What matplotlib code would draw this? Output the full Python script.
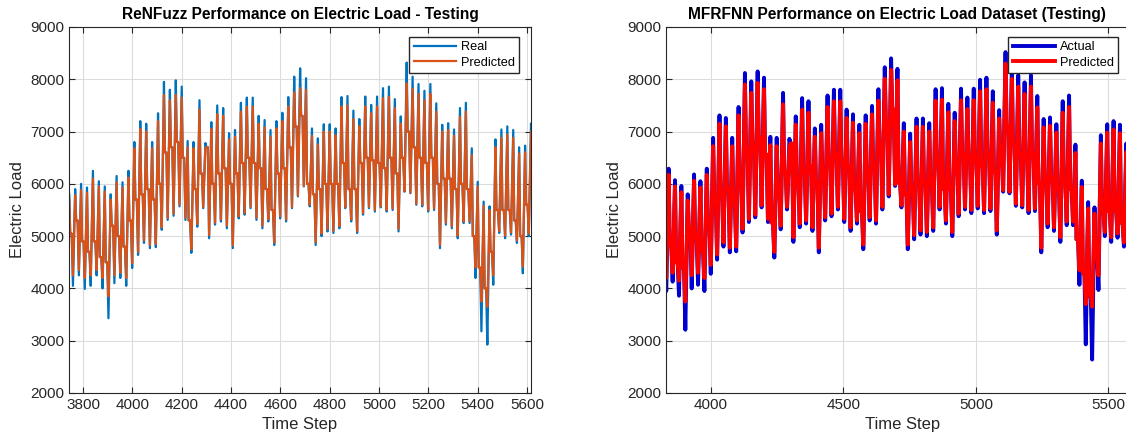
import numpy as np
import matplotlib.pyplot as plt

plt.rcParams['font.family'] = ['Liberation Sans', 'DejaVu Sans']

# hourly test data, one daily cycle every 24 steps starting at step 3744
day_start = 3744
day_len = 24

# ReNFuzz panel: daily peak / midday level / daily low
renf_real_peak = [5800, 5900, 6000, 5930, 6250, 6050, 5950, 5800, 6150, 6030,
                  6250, 6800, 7200, 7150, 6800, 7350, 7950, 7800, 7980, 7860,
                  6820, 6800, 7600, 6780, 7180, 7500, 7450, 6970, 7030, 7550,
                  7650, 7650, 7300, 7220, 7030, 7200, 7360, 7660, 8050, 8210,
                  8020, 7060, 6870, 7140, 7140, 7060, 7660, 7680, 7400, 7240,
                  7670, 7510, 7670, 7830, 7860, 7620, 7290, 8320, 8050, 7910,
                  7780, 7910, 7540, 7130, 7160, 7040, 7450, 7550, 6680, 6040,
                  5660, 5570, 6850, 7040, 7100, 7030, 6700, 6730, 7150]
renf_pred_peak = [5700, 5780, 5880, 5830, 6100, 5950, 5850, 5700, 6030, 5930,
                  6120, 6680, 7050, 7000, 6680, 7200, 7700, 7600, 7700, 7650,
                  6700, 6680, 7420, 6680, 7050, 7330, 7300, 6850, 6900, 7380,
                  7470, 7480, 7150, 7080, 6900, 7060, 7200, 7480, 7750, 7830,
                  7800, 6920, 6750, 7000, 7000, 6930, 7480, 7500, 7240, 7100,
                  7480, 7350, 7480, 7640, 7660, 7450, 7150, 7920, 7820, 7720,
                  7600, 7720, 7380, 7000, 7030, 6920, 7280, 7380, 6550, 5950,
                  5580, 5500, 6700, 6880, 6940, 6880, 6580, 6600, 7000]
renf_mid = [5050, 5300, 4900, 4700, 4900, 4600, 4500, 5200, 5000, 4800,
            5300, 5700, 5800, 5900, 5700, 6000, 6600, 6700, 6800, 6500,
            5300, 5900, 6200, 6700, 6000, 6200, 6300, 6000, 6200, 6400,
            6500, 6400, 6300, 5900, 5500, 6200, 6300, 6700, 7100, 7300,
            6000, 5800, 5900, 6000, 6000, 6000, 6400, 5900, 5900, 6400,
            6500, 6450, 6400, 6300, 6500, 6200, 6500, 7000, 6700, 6500,
            6400, 6500, 6000, 6100, 6100, 5900, 6000, 5900, 5000, 4400,
            4000, 4700, 5500, 5500, 5500, 5300, 5000, 5600]
renf_real_low = [4050, 4250, 3990, 4050, 4250, 4000, 3430, 4100, 4200, 4050,
                 4390, 4640, 4870, 4770, 4790, 5120, 5310, 5390, 5570, 5310,
                 4680, 5180, 5535, 4960, 5220, 5280, 5150, 4770, 5340, 5410,
                 5535, 5310, 5150, 5280, 4830, 5340, 5280, 5535, 5760, 5950,
                 5570, 4830, 5000, 5090, 5060, 5150, 5535, 5280, 5060, 5410,
                 5535, 5470, 5550, 5470, 5500, 5090, 5850, 5820, 5600, 5570,
                 5470, 5500, 4770, 5220, 5150, 4960, 5250, 5250, 4200, 3180,
                 2925, 4070, 5060, 4960, 5030, 4870, 4290, 5000]
renf_pred_low = [4250, 4350, 4200, 4250, 4350, 4200, 3850, 4250, 4300, 4200,
                 4480, 4700, 4920, 4830, 4850, 5170, 5350, 5430, 5600, 5350,
                 4750, 5230, 5560, 5020, 5260, 5320, 5200, 4820, 5380, 5440,
                 5560, 5350, 5200, 5320, 4880, 5380, 5320, 5560, 5780, 5960,
                 5600, 4880, 5050, 5130, 5100, 5190, 5560, 5320, 5100, 5440,
                 5560, 5500, 5570, 5500, 5530, 5140, 5860, 5830, 5620, 5600,
                 5500, 5530, 4830, 5260, 5190, 5010, 5280, 5280, 4400, 3750,
                 3650, 4250, 5100, 5010, 5070, 4920, 4420, 5050]

# MFRFNN panel
mfr_act_peak = [5800, 5910, 6020, 5940, 6290, 6070, 5960, 5800, 6180, 6050,
                6290, 6880, 7310, 7260, 6880, 7470, 8120, 7960, 8150, 8030,
                6900, 6880, 7740, 6860, 7290, 7640, 7580, 7060, 7130, 7690,
                7800, 7800, 7420, 7330, 7130, 7310, 7490, 7810, 8230, 8400,
                8200, 7160, 6960, 7250, 7250, 7160, 7810, 7830, 7530, 7360,
                7820, 7650, 7820, 7990, 8030, 7770, 7410, 8520, 8230, 8080,
                7940, 8080, 7680, 7240, 7270, 7140, 7580, 7690, 6750, 6060,
                5650, 5550, 6930, 7140, 7200, 7130, 6770, 6800, 7260]
mfr_pred_peak = [5680, 5790, 5900, 5820, 6170, 5950, 5840, 5680, 6060, 5930,
                 6170, 6720, 7150, 7100, 6720, 7310, 7900, 7740, 7930, 7810,
                 6740, 6720, 7520, 6700, 7130, 7420, 7360, 6900, 6970, 7470,
                 7580, 7580, 7260, 7170, 6970, 7150, 7330, 7590, 8010, 8180,
                 7980, 7000, 6800, 7090, 7090, 7000, 7590, 7610, 7370, 7200,
                 7600, 7430, 7600, 7770, 7810, 7550, 7250, 8300, 8010, 7860,
                 7720, 7860, 7460, 7080, 7110, 6980, 7360, 7470, 6590, 5940,
                 5530, 5430, 6770, 6980, 7040, 6970, 6610, 6640, 7100]
mfr_mid = [4990, 5260, 4830, 4610, 4830, 4500, 4400, 5150, 4940, 4720,
           5260, 5690, 5800, 5910, 5690, 6020, 6660, 6770, 6880, 6560,
           5260, 5910, 6230, 6770, 6020, 6230, 6340, 6020, 6230, 6450,
           6560, 6450, 6340, 5910, 5480, 6230, 6340, 6770, 7200, 7420,
           6020, 5800, 5910, 6020, 6020, 6020, 6450, 5910, 5910, 6450,
           6560, 6500, 6450, 6340, 6560, 6230, 6560, 7100, 6770, 6560,
           6450, 6560, 6020, 6120, 6120, 5910, 6020, 5910, 4940, 4290,
           3860, 4610, 5480, 5480, 5480, 5260, 4940, 5580]
mfr_act_low = [3950, 4130, 3850, 3950, 4130, 3860, 3210, 4000, 4070, 3950,
               4280, 4550, 4800, 4690, 4710, 5070, 5270, 5360, 5550, 5270,
               4590, 5130, 5510, 4890, 5170, 5240, 5100, 4690, 5300, 5380,
               5510, 5270, 5100, 5240, 4750, 5300, 5240, 5510, 5760, 5960,
               5550, 4750, 4940, 5030, 5000, 5100, 5510, 5240, 5000, 5380,
               5510, 5440, 5530, 5440, 5480, 5030, 5850, 5820, 5580, 5550,
               5440, 5480, 4690, 5170, 5100, 4890, 5210, 5210, 4070, 2930,
               2640, 3970, 5000, 4890, 4970, 4800, 4170, 4940]
mfr_pred_low = [4200, 4300, 4150, 4200, 4300, 4150, 3750, 4250, 4300, 4200,
                4450, 4650, 4880, 4780, 4800, 5140, 5330, 5410, 5590, 5330,
                4700, 5200, 5560, 4980, 5240, 5300, 5170, 4780, 5360, 5430,
                5560, 5330, 5170, 5300, 4840, 5360, 5300, 5560, 5800, 5990,
                5590, 4840, 5020, 5110, 5080, 5170, 5560, 5300, 5080, 5430,
                5560, 5500, 5580, 5500, 5530, 5110, 5880, 5850, 5620, 5590,
                5500, 5530, 4780, 5240, 5170, 4980, 5280, 5280, 4350, 3700,
                3650, 4250, 5080, 4980, 5050, 4880, 4400, 5030]


def daily_trace(peaks, mids, lows):
    # peak, flat midday stretch, overnight low, then the next peak
    t, y = [], []
    for k, low in enumerate(lows):
        p = day_start + k * day_len
        t += [p, p + 4, p + 10, p + 15]
        y += [peaks[k], mids[k], mids[k], low]
    t.append(day_start + len(lows) * day_len)
    y.append(peaks[-1])
    return np.array(t), np.array(y)


def style_axes(ax, title):
    ax.set_title(title, fontsize=11.2, fontweight='bold', pad=6)
    ax.set_xlabel('Time Step', fontsize=12, color='#262626')
    ax.set_ylabel('Electric Load', fontsize=12, color='#262626')
    ax.set_ylim(2000, 9000)
    ax.set_yticks(range(2000, 9001, 1000))
    ax.grid(True, color='#dcdcdc', linewidth=0.8)
    ax.set_axisbelow(True)
    ax.tick_params(direction='in', top=True, right=True, labelsize=11,
                   colors='#262626', length=4)
    for s in ax.spines.values():
        s.set_color('#262626')
        s.set_linewidth(0.8)


def add_legend(ax, right_px):
    ax.legend(loc='upper right', bbox_to_anchor=(right_px / 1126, 1 - 37 / 441),
              bbox_transform=fig.transFigure, borderaxespad=0, fontsize=9.2,
              handlelength=3.3, handletextpad=0.35, fancybox=False,
              edgecolor='#262626', framealpha=1, borderpad=0.35,
              labelspacing=0.25)


fig = plt.figure(figsize=(11.26, 4.41), dpi=100)

# left panel
ax1 = fig.add_axes([69 / 1126, 48 / 441, 462 / 1126, 366 / 441])
t, y = daily_trace(renf_real_peak, renf_mid, renf_real_low)
ax1.plot(t, y, color='#0072BD', linewidth=1.6, label='Real')
t, y = daily_trace(renf_pred_peak, renf_mid, renf_pred_low)
ax1.plot(t, y, color='#D95319', linewidth=1.6, label='Predicted')
ax1.set_xlim(3743, 5616)
ax1.set_xticks(range(3800, 5601, 200))
style_axes(ax1, 'ReNFuzz Performance on Electric Load - Testing')
add_legend(ax1, 519)

# right panel, runs past the right edge of the figure
ax2 = fig.add_axes([666 / 1126, 48 / 441, 473 / 1126, 366 / 441])
t, y = daily_trace(mfr_act_peak, mfr_mid, mfr_act_low)
ax2.plot(t, y, color='#0000D0', linewidth=2.8, label='Actual')
t, y = daily_trace(mfr_pred_peak, mfr_mid, mfr_pred_low)
ax2.plot(t, y, color='#FF0000', linewidth=2.8, label='Predicted')
ax2.set_xlim(3830, 5616)
ax2.set_xticks([4000, 4500, 5000, 5500])
style_axes(ax2, '')
fig.text(897 / 1126, 1 - 14 / 441,
         'MFRFNN Performance on Electric Load Dataset (Testing)',
         ha='center', va='center', fontsize=11.2, fontweight='bold')
add_legend(ax2, 1118)

fig.savefig('out.png', dpi=100)
